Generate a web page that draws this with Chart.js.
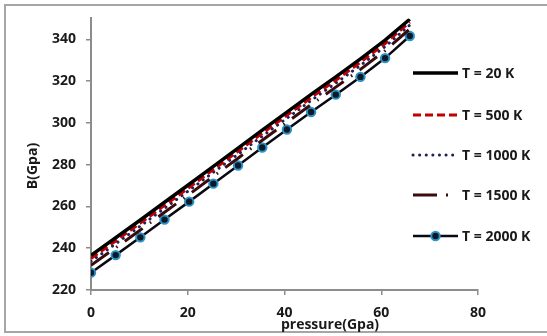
<!DOCTYPE html>
<html>
<head>
<meta charset="utf-8">
<script src="https://cdn.jsdelivr.net/npm/chart.js@4/dist/chart.umd.min.js"></script>
<style>
  html, body { margin: 0; padding: 0; background: #fff; }
  #wrap { width: 547px; height: 336px; position: relative; }
</style>
</head>
<body>
<div id="wrap"><canvas id="line-chart" width="547" height="336"></canvas></div>
<script>
// pressure (GPa)
const pressao = [0, 5.1, 10.2, 15.2, 20.3, 25.3, 30.4, 35.4, 40.5, 45.5, 50.6, 55.7, 60.8, 65.9]

// B (GPa) for each temperature
const b20 = [236.6, 245.0, 253.5, 262.0, 270.6, 279.2, 287.9, 296.5, 305.1, 313.6, 322.0, 330.6, 339.6, 349.6]
const b500 = [235.1, 243.5, 252.0, 260.5, 269.1, 277.7, 286.4, 295.0, 303.6, 312.1, 320.4, 329.0, 338.0, 348.2]
const b1000 = [233.7, 242.1, 250.6, 259.1, 267.7, 276.3, 285.0, 293.6, 302.2, 310.7, 319.0, 327.5, 336.5, 346.8]
const b1500 = [231.8, 240.2, 248.7, 257.2, 265.8, 274.4, 283.1, 291.7, 300.3, 308.7, 317.1, 325.6, 334.6, 344.9]
const b2000 = [228.3, 236.7, 245.2, 253.7, 262.3, 270.9, 279.6, 288.2, 296.8, 305.2, 313.5, 322.0, 331.0, 341.6]

const labels = ['T = 20 K', 'T = 500 K', 'T = 1000 K', 'T = 1500 K', 'T = 2000 K']

const pontos = arr => arr.map((v, i) => ({ x: pressao[i], y: v }))

const FONTE = '"Open Sans", sans-serif'
const corEixo = '#8c8c8c'

// frame, axis titles and legend drawn by hand
const extras = {
    id: 'extras',
    beforeDraw(chart) {
        const ctx = chart.ctx
        ctx.save()
        ctx.strokeStyle = '#a6a6a6'
        ctx.lineWidth = 2
        ctx.strokeRect(5, 5, 560, 327)
        ctx.restore()
    },
    afterDraw(chart) {
        const ctx = chart.ctx
        ctx.save()
        ctx.fillStyle = '#1a1a1a'
        ctx.font = 'bold 14px ' + FONTE
        ctx.textAlign = 'center'
        ctx.textBaseline = 'middle'
        ctx.fillText('pressure(Gpa)', 330, 325)
        ctx.translate(33, 166)
        ctx.rotate(-Math.PI / 2)
        ctx.fillText('B(Gpa)', 0, 0)
        ctx.restore()

        // legend
        const ys = [73, 115, 155, 195, 236]
        chart.data.datasets.forEach((ds, i) => {
            const y = ys[i]
            ctx.save()
            ctx.strokeStyle = ds.borderColor
            ctx.lineWidth = ds.borderWidth
            ctx.lineCap = ds.borderCapStyle || 'butt'
            ctx.setLineDash(ds.legendDash || ds.borderDash || [])
            ctx.beginPath()
            ctx.moveTo(413, y)
            ctx.lineTo(458, y)
            ctx.stroke()
            if (ds.pointRadius > 0) {
                ctx.setLineDash([])
                ctx.beginPath()
                ctx.arc(435.5, y, ds.pointRadius, 0, Math.PI * 2)
                ctx.fillStyle = ds.pointBackgroundColor
                ctx.fill()
                ctx.lineWidth = ds.pointBorderWidth
                ctx.strokeStyle = ds.pointBorderColor
                ctx.stroke()
            }
            ctx.fillStyle = '#1a1a1a'
            ctx.font = 'bold 14px ' + FONTE
            ctx.textAlign = 'left'
            ctx.textBaseline = 'middle'
            ctx.fillText(ds.label, 462, y + 1)
            ctx.restore()
        })
    }
}

new Chart(document.getElementById('line-chart'), {
    type: 'line',
    data: {
        datasets: [
            {
                label: labels[0],
                data: pontos(b20),
                borderColor: '#000000',
                borderWidth: 3.5,
                pointRadius: 0
            },
            {
                label: labels[1],
                data: pontos(b500),
                borderColor: '#c00000',
                borderWidth: 3,
                borderDash: [8, 4],
                pointRadius: 0
            },
            {
                label: labels[2],
                data: pontos(b1000),
                borderColor: '#1f1f5e',
                borderWidth: 3,
                borderCapStyle: 'round',
                borderDash: [0.1, 6.5],
                pointRadius: 0
            },
            {
                label: labels[3],
                data: pontos(b1500),
                borderColor: '#3a0c0c',
                borderWidth: 3,
                borderDash: [22, 9, 1.5, 9],
                legendDash: [24, 9, 2, 20],
                pointRadius: 0
            },
            {
                label: labels[4],
                data: pontos(b2000),
                borderColor: '#0a0a14',
                borderWidth: 2.5,
                pointRadius: 4.2,
                pointBackgroundColor: '#0d1a26',
                pointBorderColor: '#2b93c8',
                pointBorderWidth: 2
            }
        ]
    },
    options: {
        responsive: false,
        animation: false,
        layout: { padding: { top: 18, right: 69, left: 0, bottom: 0 } },
        plugins: {
            legend: { display: false },
            tooltip: { enabled: false }
        },
        elements: { line: { tension: 0 } },
        scales: {
            x: {
                type: 'linear',
                min: 0,
                max: 80,
                ticks: { stepSize: 20, color: '#1a1a1a', font: { family: FONTE, size: 14, weight: 'bold' }, padding: 10, maxRotation: 0 },
                grid: { display: true, drawOnChartArea: false, drawTicks: true, tickLength: 5, color: corEixo, lineWidth: 1.5 },
                border: { display: true, color: corEixo, width: 2 },
                afterFit: scale => { scale.height = 46 }
            },
            y: {
                min: 220,
                max: 350,
                ticks: { stepSize: 20, color: '#1a1a1a', font: { family: FONTE, size: 14, weight: 'bold' }, padding: 10 },
                afterBuildTicks: scale => { scale.ticks = scale.ticks.filter(t => t.value <= 340) },
                grid: { display: true, drawOnChartArea: false, drawTicks: true, tickLength: 5, color: corEixo, lineWidth: 1.5 },
                border: { display: true, color: corEixo, width: 2 },
                afterFit: scale => { scale.width = 91 }
            }
        }
    },
    plugins: [extras]
});
</script>
</body>
</html>
